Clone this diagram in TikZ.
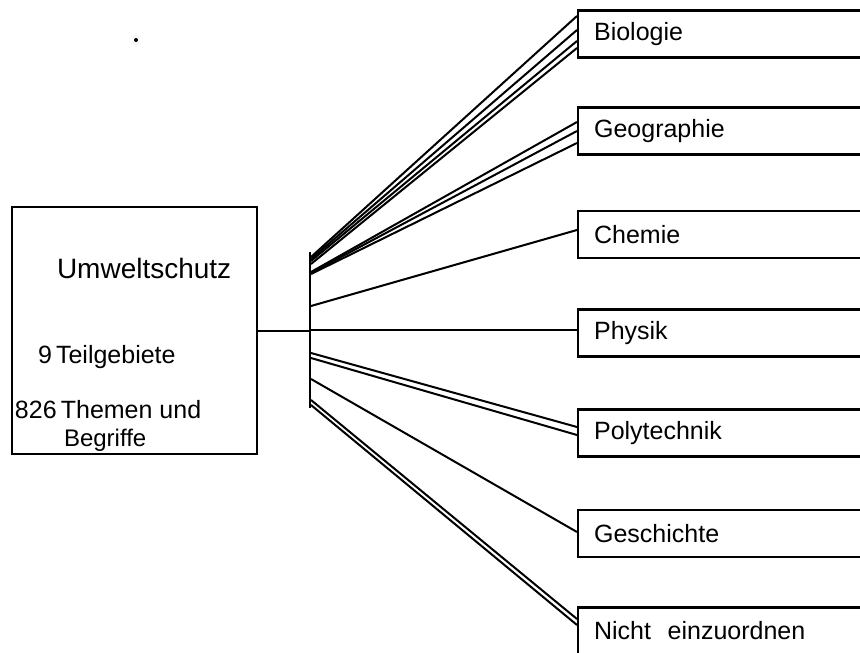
\documentclass[tikz,border=0pt]{standalone}
\usepackage{fontspec}
\setmainfont{Liberation Sans}

\begin{document}
\begin{tikzpicture}[x=1pt,y=-1pt,line width=2pt,
    fach/.style={draw,line width=2.2pt,anchor=west,minimum height=47pt,
      text width=300pt,inner xsep=16pt,align=left,
      font=\fontsize{25}{30}\selectfont},
    zeile/.style={anchor=base west,inner sep=0pt,font=\fontsize{25}{30}\selectfont}]
  \useasboundingbox (0,0) rectangle (860,653);
  \clip (0,0) rectangle (860,653);

  % Ausgangsfeld links
  \node[draw,line width=2.2pt,minimum width=245pt,minimum height=247pt] (thema) at (134.5,330.5) {};
  \node[zeile,font=\fontsize{28}{30}\selectfont] (umwelt) at (56,278) {Umweltschutz};
  \node[zeile] (teil) at (37,363) {9\,Teilgebiete};
  \node[zeile] (themen) at (14,418) {826\,Themen und};
  \node[zeile,font=\fontsize{24}{30}\selectfont] (begriffe) at (63,446) {Begriffe};

  % Verteilerbalken
  \coordinate (bartop) at (310,252);
  \coordinate (barbot) at (310,408);
  \draw (bartop) -- (barbot);
  \draw (thema.east) -- (thema.east -| bartop);

  % Faecher rechts
  \node[fach] (bio) at (577,34) {Biologie};
  \node[fach] (geo) at (577,131) {Geographie};
  \node[fach] (chem) at (577,234.5) {Chemie};
  \node[fach] (phys) at (577,333) {Physik};
  \node[fach] (poly) at (577,433) {Polytechnik};
  \node[fach] (gesch) at (577,533.5) {Geschichte};
  \node[fach] (rest) at (577,631) {Nicht\ \ einzuordnen};

  % Zuordnungen
  \coordinate (b1) at (311,260);
  \draw ([yshift=3pt]b1) -- ([yshift=18pt]bio.west);
  \draw ([yshift=1pt]b1) -- ([yshift=4pt]bio.west);
  \draw ([yshift=-1pt]b1) -- ([yshift=-7pt]bio.west);
  \draw ([yshift=-4pt]b1) -- ([yshift=-14pt]bio.west);

  \coordinate (b2) at (311,273);
  \draw ([yshift=1pt]b2) -- ([yshift=9pt]geo.west);
  \draw (b2) -- (geo.west);
  \draw ([yshift=-1pt]b2) -- ([yshift=-12pt]geo.west);

  \coordinate (b3) at (311,306);
  \draw (b3) -- ([yshift=4.5pt]chem.west);

  \coordinate (b4) at (311,330);
  \draw (b4) -- ([yshift=3pt]phys.west);

  \coordinate (b5) at (311,355);
  \draw ([yshift=2pt]b5) -- ([yshift=6pt]poly.west);
  \draw ([yshift=-3pt]b5) -- ([yshift=-2pt]poly.west);

  \coordinate (b6) at (311,379);
  \draw (b6) -- ([yshift=1.5pt]gesch.west);

  \coordinate (b7) at (311,402);
  \draw ([yshift=2pt]b7) -- ([yshift=12pt]rest.west);
  \draw ([yshift=-3pt]b7) -- ([yshift=6pt]rest.west);

  % Fleck
  \fill (136,40) circle (2pt);
\end{tikzpicture}
\end{document}
